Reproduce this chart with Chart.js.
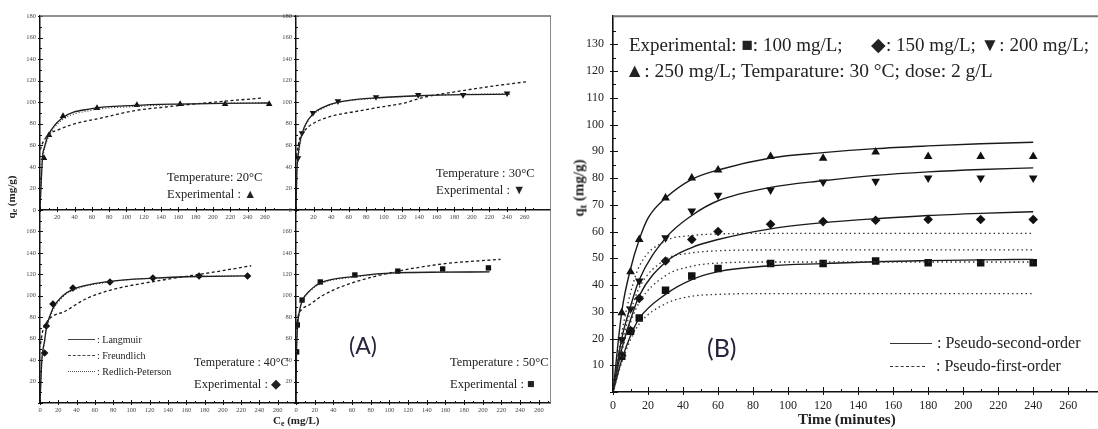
<!DOCTYPE html>
<html lang="en">
<head>
<meta charset="UTF-8">
<title>Isotherms and kinetics</title>
<script src="https://cdn.jsdelivr.net/npm/chart.js"></script>
<style>
  body { margin: 0; background: #fff; }
  #wrap { position: relative; width: 1098px; height: 429px; overflow: hidden; font-family: 'Liberation Serif', serif; color: #222; }
  canvas { position: absolute; }
  .t { position: absolute; white-space: nowrap; line-height: 1; transform: translateY(-50%); }
  .rot { position: absolute; white-space: nowrap; line-height: 1; font-weight: bold; transform: translate(-50%, -50%) rotate(-90deg); }
  .key { position: absolute; height: 0; }
  sub { font-size: 70%; vertical-align: -0.25em; }
</style>
</head>
<body>
<div id="wrap">
  <canvas id="cTL" width="296" height="222" style="left:0;top:0"></canvas>
  <canvas id="cTR" width="301" height="222" style="left:250px;top:0"></canvas>
  <canvas id="cBL" width="296" height="222" style="left:0;top:200px"></canvas>
  <canvas id="cBR" width="301" height="222" style="left:250px;top:200px"></canvas>
  <canvas id="cB" width="558" height="429" style="left:540px;top:0"></canvas>

  <!-- panel A texts -->
  <div class="rot" style="left:12px;top:197px;font-size:11px">q<sub>e</sub> (mg/g)</div>
  <div class="t" style="left:273px;top:421px;font-size:11px;font-weight:bold">C<sub>e</sub> (mg/L)</div>
  <div class="t" style="left:167px;top:177px;font-size:12.5px">Temperature: 20°C</div>
  <div class="t" style="left:167px;top:194px;font-size:12.5px">Experimental : ▲</div>
  <div class="t" style="left:436px;top:173px;font-size:12.5px">Temperature : 30°C</div>
  <div class="t" style="left:436px;top:190px;font-size:12.5px">Experimental : ▼</div>
  <div class="t" style="left:194px;top:362px;font-size:12px">Temperature : 40°C</div>
  <div class="t" style="left:194px;top:384px;font-size:12.5px">Experimental : ◆</div>
  <div class="t" style="left:450px;top:362px;font-size:12.5px">Temperature : 50°C</div>
  <div class="t" style="left:450px;top:384px;font-size:12.5px">Experimental : ■</div>
  <div class="key" style="left:68px;top:339px;width:27px;border-top:1.5px solid #444"></div>
  <div class="key" style="left:68px;top:355px;width:27px;border-top:1.3px dashed #444"></div>
  <div class="key" style="left:68px;top:371px;width:27px;border-top:1px dotted #555"></div>
  <div class="t" style="left:97px;top:340px;font-size:10px">: Langmuir</div>
  <div class="t" style="left:97px;top:356px;font-size:10px">: Freundlich</div>
  <div class="t" style="left:97px;top:372px;font-size:10px">: Redlich-Peterson</div>
  <div class="t" style="left:349px;top:345px;font-size:23px;font-family:Lato,sans-serif;color:#26263a">(A)</div>

  <!-- panel B texts -->
  <div class="rot" style="left:580px;top:188px;font-size:15px">q<sub>t</sub> (mg/g)</div>
  <div class="t" style="left:798px;top:419px;font-size:15px;font-weight:bold">Time (minutes)</div>
  <div class="t" style="left:629px;top:44px;font-size:19px">Experimental: ■: 100 mg/L;&nbsp;&nbsp;&nbsp;&nbsp;&nbsp; ◆: 150 mg/L; ▼: 200 mg/L;</div>
  <div class="t" style="left:625px;top:71px;font-size:19.5px">▲: 250 mg/L; Temparature: 30 °C; dose: 2 g/L</div>
  <div class="key" style="left:890px;top:343px;width:42px;border-top:1.6px solid #333"></div>
  <div class="key" style="left:890px;top:366px;width:35px;border-top:1.4px dashed #333"></div>
  <div class="t" style="left:937px;top:343px;font-size:16px">: Pseudo-second-order</div>
  <div class="t" style="left:936px;top:366px;font-size:16px">: Pseudo-first-order</div>
  <div class="t" style="left:707px;top:347px;font-size:25px;font-family:Lato,sans-serif;color:#26263a">(B)</div>
</div>

<script>
// ---- Panel A: isotherms, Ce (mg/L) vs qe (mg/g)
const isoXTicks = [0, 20, 40, 60, 80, 100, 120, 140, 160, 180, 200, 220, 240, 260];
const isoYTicks = [0, 20, 40, 60, 80, 100, 120, 140, 160, 180];

const ce20 = [4.6, 10.4, 26.6, 65.9, 112, 162, 214, 265];
const qe20 = [48.2, 69.6, 87.2, 94.6, 97.4, 98.3, 98.3, 98.3];
const lang20 = [[0, 0], [3, 50], [5, 58], [10, 70], [25, 85], [60, 94], [110, 97], [160, 98.3], [210, 99], [265, 99.3]];
const freu20 = [[0.5, 56], [2, 60], [5, 65], [10, 70], [23, 75], [40, 80], [69, 85], [108, 92], [150, 96], [200, 100], [258, 104]];
const rp20 = [[0, 0], [1, 28], [3, 47], [5, 56], [10, 68], [25, 83], [60, 92.5], [110, 96], [160, 98], [210, 99], [265, 99.5]];

const ce30 = [2.3, 6.8, 19.3, 47.7, 91, 139, 190, 240];
const qe30 = [48.2, 71.4, 90, 101, 104.8, 106.7, 106.7, 108.3];
const lang30 = [[0, 0], [1, 35], [2.3, 50], [5, 65], [10, 78], [19, 89], [30, 95], [48, 100], [90, 104], [140, 106], [190, 107], [243, 107.5]];
const freu30 = [[0.5, 50], [2, 58], [5, 68], [10, 74], [19, 80], [40, 87], [65, 91], [100, 96], [122, 99], [145, 104.5], [180, 109.5], [220, 114.5], [262, 119]];
const rp30 = [[0, 0], [1, 32], [2.3, 47], [5, 63], [10, 77], [19, 88], [30, 94], [48, 99.5], [90, 103.5], [140, 106], [190, 107.2], [243, 107.8]];

const ce40 = [5, 7, 14.2, 36, 76.5, 123.5, 174, 227];
const qe40 = [46.6, 71.8, 92.4, 107.3, 112.9, 116.6, 118.5, 118.5];
const lang40 = [[0, 0], [2, 40], [5, 58], [7, 70], [14, 88], [25, 100], [36, 106], [77, 113.5], [124, 116.5], [174, 118], [228, 118.5]];
const freu40 = [[0.5, 55], [3, 67], [7, 75], [14, 81], [26, 85], [50, 97], [78, 105.5], [133, 114.5], [193, 122.5], [231, 128]];
const rp40 = [[0, 0], [2, 38], [5, 56], [7, 68], [14, 86], [25, 99], [36, 105], [77, 113], [124, 116.5], [174, 118.2], [228, 119]];

const ce50 = [0.7, 1.4, 6.5, 26, 63, 109, 157, 206];
const qe50 = [47.6, 72.8, 96, 112.9, 119.4, 123, 125, 126];
const lang50 = [[0, 0], [0.5, 45], [1, 60], [2, 75], [4, 87], [6.5, 95], [15, 105], [26, 112], [63, 118], [109, 121.5], [157, 122], [207, 122.3]];
const freu50 = [[0.5, 70], [2, 80], [6, 87], [14, 91.4], [30, 101], [60, 112], [107, 122.5], [157, 129.7], [219, 134]];
const rp50 = [[0, 0], [0.5, 42], [1, 58], [2, 73], [4, 86], [6.5, 94], [15, 104], [26, 111], [63, 117.5], [109, 121], [157, 122], [207, 122.5]];

// ---- Panel B: kinetics, time (min) vs qt (mg/g)
const kinXTicks = [0, 20, 40, 60, 80, 100, 120, 140, 160, 180, 200, 220, 240, 260];
const kinYTicks = [0, 10, 20, 30, 40, 50, 60, 70, 80, 90, 100, 110, 120, 130];
const kinTime = [5, 10, 15, 30, 45, 60, 90, 120, 150, 180, 210, 240];
const q100 = [13.4, 22.7, 27.7, 38, 43.4, 46.2, 48, 48, 49, 48.3, 48.3, 48.3];
const q150 = [13.6, 23, 35, 49, 57, 60, 62.7, 63.7, 64.2, 64.5, 64.5, 64.5];
const q200 = [19.6, 31, 41.5, 57.7, 67.7, 73.6, 75.5, 78.5, 78.8, 80, 80, 80];
const q250 = [29.6, 45, 57, 72.5, 80, 83, 88, 87.4, 89.7, 88, 88, 88];

const pso100 = [[0, 0], [5, 12], [10, 21], [15, 27.5], [30, 36.5], [45, 42], [60, 45], [90, 47.2], [120, 48], [150, 48.7], [180, 49.1], [210, 49.4], [240, 49.6]];
const pso150 = [[0, 0], [5, 16], [10, 27], [15, 36], [30, 48.5], [45, 54], [60, 57], [90, 61], [120, 63.3], [150, 64.8], [180, 66], [210, 66.8], [240, 67.4]];
const pso200 = [[0, 0], [5, 20], [10, 32], [15, 42], [30, 57.5], [45, 66], [60, 71.5], [90, 76.5], [120, 79], [150, 81], [180, 82.3], [210, 83.2], [240, 83.8]];
const pso250 = [[0, 0], [5, 30], [10, 46], [15, 57], [20, 65], [30, 72.5], [45, 79.5], [60, 83], [90, 87.5], [120, 89.5], [150, 91], [180, 92], [210, 92.8], [240, 93.4]];

const pfo100 = [[0, 0], [5, 11], [10, 19.5], [15, 25.5], [30, 33], [45, 35.8], [60, 36.5], [90, 36.8], [240, 36.8]];
const pfo150 = [[0, 0], [5, 15], [10, 26], [15, 33.5], [30, 43.5], [45, 47], [60, 48.2], [90, 48.6], [240, 48.6]];
const pfo200 = [[0, 0], [5, 18], [10, 30], [15, 39], [30, 49.5], [45, 52], [60, 52.8], [90, 53.1], [240, 53.1]];
const pfo250 = [[0, 0], [5, 22], [10, 37], [15, 47], [30, 56.5], [45, 58.5], [60, 59.1], [90, 59.3], [240, 59.3]];

// small tick marks like the Origin plots (major + minor)
const inTicks = {
  id: 'inTicks',
  afterDatasetsDraw(chart, args, o) {
    const a = chart.chartArea, ctx = chart.ctx;
    ctx.save();
    ctx.strokeStyle = '#111';
    ctx.lineWidth = 1;
    ['x', 'y'].forEach(k => {
      const s = chart.scales[k];
      const vals = s.ticks.map(t => t.value);
      const step = vals[1] - vals[0];
      const marks = [];
      vals.forEach(v => {
        marks.push([v, o.majIn, o.majOut]);
        marks.push([v + step / 2, o.minIn, 0]);
      });
      marks.forEach(([v, li, lo]) => {
        if (v > s.max) return;
        const p = Math.round(s.getPixelForValue(v)) + 0.5;
        ctx.beginPath();
        if (k === 'x') { ctx.moveTo(p, a.bottom + lo); ctx.lineTo(p, a.bottom - li); }
        else { ctx.moveTo(a.left - lo, p); ctx.lineTo(a.left + li, p); }
        ctx.stroke();
      });
    });
    ctx.restore();
  }
};

// top / right box lines
const frame = {
  id: 'frame',
  afterDatasetsDraw(chart, args, o) {
    if (!o.top && !o.right) return;
    const a = chart.chartArea, ctx = chart.ctx;
    ctx.save();
    ctx.strokeStyle = o.color;
    ctx.lineWidth = o.width;
    ctx.beginPath();
    if (o.top) { ctx.moveTo(a.left, a.top); ctx.lineTo(a.right, a.top); }
    if (o.right) { ctx.moveTo(a.right, a.top); ctx.lineTo(a.right, a.bottom); }
    ctx.stroke();
    ctx.restore();
  }
};
Chart.register(inTicks, frame);

const xy = arr => arr.map(([x, y]) => ({ x, y }));
const zip = (xs, ys) => xs.map((x, i) => ({ x, y: ys[i] }));

function curve(arr, dash, w, color) {
  return {
    data: xy(arr), showLine: true, pointRadius: 0, borderColor: color || '#1a1a1a',
    borderWidth: w, borderDash: dash, cubicInterpolationMode: 'monotone', fill: false
  };
}
function marks(xs, ys, style, r, rot) {
  return {
    data: zip(xs, ys), showLine: false, pointStyle: style, pointRadius: r, rotation: rot || 0,
    pointBackgroundColor: '#111', pointBorderColor: '#111', pointBorderWidth: 0
  };
}

function isoChart(id, c) {
  return new Chart(document.getElementById(id), {
    type: 'scatter',
    data: {
      datasets: [
        curve(c.rp, [1, 2], 1.1, '#333'),
        curve(c.freu, [3, 2.5], 1.3),
        curve(c.lang, [], 1.3),
        marks(c.ce, c.qe, c.style, 3.8, c.rot)
      ]
    },
    options: {
      responsive: false, animation: false, events: [],
      layout: { autoPadding: false, padding: { top: c.padTop, left: 0, right: 0, bottom: 0 } },
      plugins: {
        legend: { display: false }, tooltip: { enabled: false },
        frame: { top: c.top, right: c.right, color: '#6e6e6e', width: 1.6 },
        inTicks: { majIn: 3, majOut: 2, minIn: 2 }
      },
      scales: {
        x: {
          type: 'linear', min: 0, max: c.xMax,
          afterBuildTicks: s => { s.ticks = isoXTicks.map(v => ({ value: v })); },
          afterFit: s => { s.height = c.xH; },
          grid: { display: false, drawTicks: false },
          border: { color: '#111', width: 1.5 },
          ticks: {
            autoSkip: false, maxRotation: 0, padding: 3, color: '#444',
            font: { family: 'Liberation Serif', size: 6.5 },
            callback: v => (c.hideX0 && v === 0) ? '' : v
          }
        },
        y: {
          type: 'linear', min: 0, max: 180,
          afterBuildTicks: s => { s.ticks = isoYTicks.map(v => ({ value: v })); },
          afterFit: s => { s.width = c.yW; },
          grid: { display: false, drawTicks: false },
          border: { color: '#111', width: 1.5 },
          ticks: {
            autoSkip: false, padding: 4, color: '#444',
            font: { family: 'Liberation Serif', size: 6.5 },
            callback: v => (c.bottom && (v === 0 || v === 180)) ? '' : v
          }
        }
      }
    }
  });
}

isoChart('cTL', { ce: ce20, qe: qe20, lang: lang20, freu: freu20, rp: rp20, style: 'triangle', rot: 0,
  xMax: 296, padTop: 16, xH: 12, yW: 40, top: true, right: false, hideX0: true, bottom: false });
isoChart('cTR', { ce: ce30, qe: qe30, lang: lang30, freu: freu30, rp: rp30, style: 'triangle', rot: 180,
  xMax: 290, padTop: 16, xH: 12, yW: 46, top: true, right: true, hideX0: true, bottom: false });
isoChart('cBL', { ce: ce40, qe: qe40, lang: lang40, freu: freu40, rp: rp40, style: 'rectRot', rot: 0,
  xMax: 280, padTop: 10, xH: 19, yW: 40, top: false, right: false, hideX0: false, bottom: true });
isoChart('cBR', { ce: ce50, qe: qe50, lang: lang50, freu: freu50, rp: rp50, style: 'rect', rot: 0,
  xMax: 273, padTop: 10, xH: 19, yW: 46, top: false, right: true, hideX0: false, bottom: true });

// ---- Panel B chart
const dotted = [1.5, 3];
new Chart(document.getElementById('cB'), {
  type: 'scatter',
  data: {
    datasets: [
      curve(pfo100, dotted, 1.3, '#333'),
      curve(pfo150, dotted, 1.3, '#333'),
      curve(pfo200, dotted, 1.3, '#333'),
      curve(pfo250, dotted, 1.3, '#333'),
      curve(pso100, [], 1.4),
      curve(pso150, [], 1.4),
      curve(pso200, [], 1.4),
      curve(pso250, [], 1.4),
      marks(kinTime, q100, 'rect', 5.3),
      marks(kinTime, q150, 'rectRot', 4.8),
      marks(kinTime, q200, 'triangle', 5, 180),
      marks(kinTime, q250, 'triangle', 5)
    ]
  },
  options: {
    responsive: false, animation: false, events: [],
    layout: { autoPadding: false, padding: { top: 16, left: 0, right: 0, bottom: 0 } },
    plugins: {
      legend: { display: false }, tooltip: { enabled: false },
      frame: { top: true, right: false, color: '#777', width: 2 },
      inTicks: { majIn: 5, majOut: 3, minIn: 3 }
    },
    scales: {
      x: {
        type: 'linear', min: 0, max: 277,
        afterBuildTicks: s => { s.ticks = kinXTicks.map(v => ({ value: v })); },
        afterFit: s => { s.height = 37; },
        grid: { display: false, drawTicks: false },
        border: { color: '#111', width: 1.6 },
        ticks: { autoSkip: false, maxRotation: 0, padding: 7, color: '#222', font: { family: 'Liberation Serif', size: 12 } }
      },
      y: {
        type: 'linear', min: 0, max: 140.5,
        afterBuildTicks: s => { s.ticks = kinYTicks.map(v => ({ value: v })); },
        afterFit: s => { s.width = 73; },
        grid: { display: false, drawTicks: false },
        border: { color: '#111', width: 1.6 },
        ticks: {
          autoSkip: false, padding: 9, color: '#222', font: { family: 'Liberation Serif', size: 12 },
          callback: v => v === 0 ? '' : v
        }
      }
    }
  }
});
</script>
</body>
</html>
